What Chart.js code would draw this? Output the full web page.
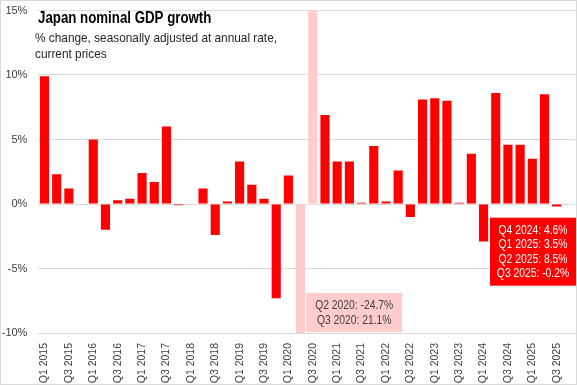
<!DOCTYPE html>
<html>
<head>
<meta charset="utf-8">
<script src="https://cdn.jsdelivr.net/npm/chart.js@4.4.1/dist/chart.umd.min.js"></script>
<style>
html,body{margin:0;padding:0;background:#fff;}
#wrap{width:577px;height:385px;position:relative;}
</style>
</head>
<body>
<div id="wrap"><canvas id="c" width="577" height="385"></canvas></div>
<script>
const categories = [
 "Q1 2015","Q2 2015","Q3 2015","Q4 2015",
 "Q1 2016","Q2 2016","Q3 2016","Q4 2016",
 "Q1 2017","Q2 2017","Q3 2017","Q4 2017",
 "Q1 2018","Q2 2018","Q3 2018","Q4 2018",
 "Q1 2019","Q2 2019","Q3 2019","Q4 2019",
 "Q1 2020","Q2 2020","Q3 2020","Q4 2020",
 "Q1 2021","Q2 2021","Q3 2021","Q4 2021",
 "Q1 2022","Q2 2022","Q3 2022","Q4 2022",
 "Q1 2023","Q2 2023","Q3 2023","Q4 2023",
 "Q1 2024","Q2 2024","Q3 2024","Q4 2024",
 "Q1 2025","Q2 2025","Q3 2025","Q4 2025"
];
const growth = [
 9.9, 2.3, 1.2, 0.0,
 5.0, -2.0, 0.3, 0.4,
 2.4, 1.7, 6.0, -0.1,
 0.0, 1.2, -2.4, 0.2,
 3.3, 1.5, 0.4, -7.3,
 2.2, -24.7, 21.1, 6.9,
 3.3, 3.3, 0.1, 4.5,
 0.2, 2.6, -1.0, 8.1,
 8.2, 8.0, 0.1, 3.9,
 -2.9, 8.6, 4.6, 4.6,
 3.5, 8.5, -0.2, null
];
const highlighted = ["Q2 2020","Q3 2020"];
const yTicks = [-10, -5, 0, 5, 10, 15];
const titleText = "Japan nominal GDP growth";
const subtitleLines = ["% change, seasonally adjusted at annual rate,", "current prices"];
const covidNote = ["Q2 2020: -24.7%", "Q3 2020: 21.1%"];
const latestNote = ["Q4 2024: 4.6%", "Q1 2025: 3.5%", "Q2 2025: 8.5%", "Q3 2025: -0.2%"];

const FONT = "'Liberation Sans', Arial, sans-serif";
const RED = "#ff0000";
const PINK = "#ffcccc";

const colors = categories.map(c => highlighted.includes(c) ? PINK : RED);

function narrowText(ctx, text, x, y, sx, align) {
  ctx.save();
  ctx.translate(x, y);
  ctx.scale(sx, 1);
  ctx.textAlign = align;
  ctx.fillText(text, 0, 0);
  ctx.restore();
}

const overlay = {
  id: 'overlay',
  afterDraw(chart) {
    const ctx = chart.ctx;
    const xs = chart.scales.x, ys = chart.scales.y, ca = chart.chartArea;
    ctx.save();
    // title
    ctx.textBaseline = 'alphabetic';
    ctx.fillStyle = '#000';
    ctx.font = "bold 16px " + FONT;
    narrowText(ctx, titleText, 38, 23, 0.83, 'left');
    ctx.fillStyle = '#262626';
    ctx.font = "13px " + FONT;
    narrowText(ctx, subtitleLines[0], 35, 42, 0.91, 'left');
    narrowText(ctx, subtitleLines[1], 35, 58, 0.91, 'left');

    // covid note box
    const i2 = categories.indexOf("Q2 2020");
    const barHalf = (xs.getPixelForValue(1) - xs.getPixelForValue(0)) * 0.375;
    const bx = xs.getPixelForValue(i2) + barHalf + 1;
    const bb = ys.getPixelForValue(-10) - 1;
    const bw = 96, bh = 39;
    ctx.fillStyle = PINK;
    ctx.fillRect(bx, bb - bh, bw, bh);
    ctx.fillStyle = '#404040';
    ctx.font = "12px " + FONT;
    ctx.textBaseline = 'middle';
    covidNote.forEach((t, k) => narrowText(ctx, t, bx + bw / 2, bb - bh + 13 + k * 14.5, 0.86, 'center'));

    // latest note box
    const rw = 86, rh = 68;
    const rx = ca.right - rw + 1;
    const ry = ys.getPixelForValue(-1.06);
    ctx.fillStyle = RED;
    ctx.fillRect(rx, ry, rw, rh);
    ctx.fillStyle = '#fff';
    latestNote.forEach((t, k) => narrowText(ctx, t, rx + rw / 2, ry + 13 + k * 14.5, 0.86, 'center'));

    // outer border
    ctx.strokeStyle = '#d9d9d9';
    ctx.lineWidth = 1;
    ctx.strokeRect(0.5, 0.5, chart.width - 1, chart.height - 1);
    ctx.restore();
  }
};

new Chart(document.getElementById('c'), {
  type: 'bar',
  data: {
    labels: categories,
    datasets: [{
      data: growth,
      backgroundColor: colors,
      borderWidth: 0,
      categoryPercentage: 1.0,
      barPercentage: 0.75
    }]
  },
  options: {
    responsive: false,
    animation: false,
    devicePixelRatio: 1,
    layout: { padding: { top: 10.5, right: 2, bottom: 0, left: 0 } },
    plugins: { legend: { display: false }, tooltip: { enabled: false } },
    scales: {
      x: {
        grid: { display: false },
        border: { display: false },
        ticks: {
          autoSkip: false,
          maxRotation: 90,
          minRotation: 90,
          padding: 2,
          color: '#404040',
          font: { family: FONT, size: 10.5 },
          callback: function(v, i) { return i % 2 === 0 ? categories[i] : ''; }
        },
        afterFit: s => { s.height = 52; s.paddingTop = 0; s.paddingBottom = 0; s.paddingLeft = 0; s.paddingRight = 0; }
      },
      y: {
        min: yTicks[0],
        max: yTicks[yTicks.length - 1],
        afterBuildTicks: s => { s.ticks = yTicks.map(v => ({ value: v })); },
        grid: { color: '#d9d9d9', drawTicks: false, lineWidth: 1 },
        border: { display: false },
        ticks: {
          padding: 11,
          color: '#404040',
          font: { family: FONT, size: 11 },
          callback: v => v + '%'
        },
        afterFit: s => { s.width = 38.4; s.paddingTop = 0; s.paddingBottom = 0; }
      }
    }
  },
  plugins: [overlay]
});
</script>
</body>
</html>
